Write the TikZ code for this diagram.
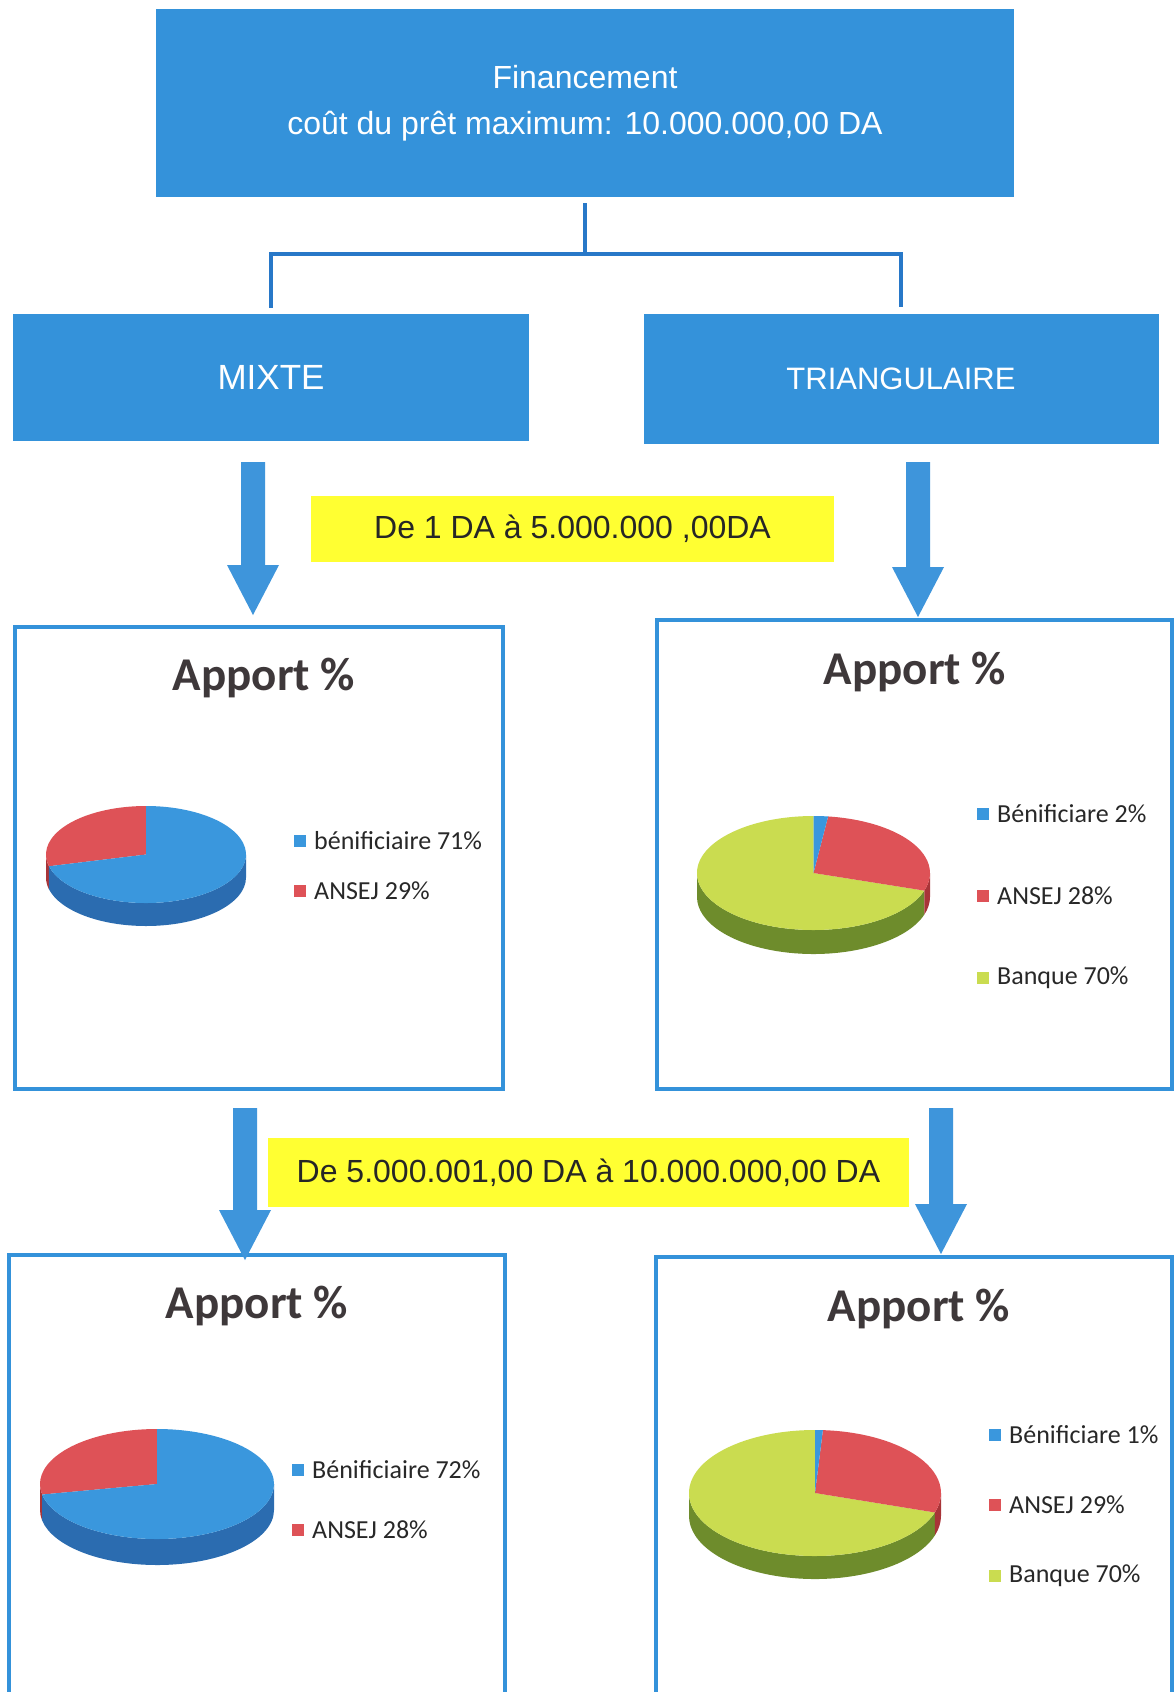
\documentclass[tikz,border=0pt]{standalone}
\usepackage{fontspec}
\setmainfont{Liberation Sans}
\newfontfamily\calfont{Carlito}
\usetikzlibrary{calc}
\definecolor{boxblue}{RGB}{52,146,218}
\definecolor{lineblue}{RGB}{40,120,200}
\definecolor{arrblue}{RGB}{62,149,219}
\definecolor{hiyellow}{RGB}{255,255,50}
\definecolor{pieblue}{RGB}{58,151,221}
\definecolor{piebluedk}{RGB}{43,108,176}
\definecolor{piered}{RGB}{222,82,87}
\definecolor{pieredk}{RGB}{168,52,56}
\definecolor{piegreen}{RGB}{202,220,80}
\definecolor{piegreendk}{RGB}{110,140,44}
\definecolor{titlegray}{RGB}{62,56,58}
\definecolor{legtext}{RGB}{40,40,40}

\tikzset{
 bluebox/.style={fill=boxblue, text=white, inner sep=0pt, align=center},
 hlbox/.style={fill=hiyellow, text=black!85, inner sep=0pt, font=\fontsize{32}{38}\selectfont},
 framebox/.style={draw=boxblue, line width=3.5pt, fill=white, inner sep=0pt},
 conn/.style={draw=lineblue, line width=3.5pt},
 charttitle/.style={font=\calfont\bfseries\fontsize{47}{56}\selectfont, text=titlegray},
 legtxt/.style={font=\calfont\fontsize{26}{31}\selectfont, text=legtext, anchor=west, inner sep=0pt},
 legkey/.style={minimum size=12pt, inner sep=0pt},
}

% cx cy rx ry a b color
\newcommand\pietop[7]{%
 \fill[#7] (#1,#2) -- ++(#5:#3 and #4) arc[start angle=#5,end angle=#6,x radius=#3,y radius=#4] -- cycle;}
% cx cy rx ry d a b color
\newcommand\pieside[8]{%
 \fill[#8] (#1,#2) ++(#6:#3 and #4) arc[start angle=#6,end angle=#7,x radius=#3,y radius=#4] -- ++(0,-#5) arc[start angle=#7,end angle=#6,x radius=#3,y radius=#4] -- cycle;}
\newcommand\blockarrow[2]{%
 \fill[arrblue] ($(#1)+(-12,0)$) -- ($(#1)+(12,0)$) -- ($(#2)+(12,50)$) -- ($(#2)+(26,50)$) -- (#2) -- ($(#2)+(-26,50)$) -- ($(#2)+(-12,50)$) -- cycle;}

\begin{document}
\begin{tikzpicture}[x=1pt,y=1pt]
\useasboundingbox (0,0) rectangle (1174,-1692);
\fill[white] (0,0) rectangle (1174,-1692);

% top level boxes
\node[bluebox, minimum width=858pt, minimum height=188pt, font=\fontsize{32}{46}\selectfont] (top) at (585,-103) {Financement\\coût du prêt maximum: 10.000.000,00 DA};
\node[bluebox, minimum width=516pt, minimum height=127pt, font=\fontsize{35}{42}\selectfont] (mixte) at (271,-377.5) {MIXTE};
\node[bluebox, minimum width=515pt, minimum height=130pt, font=\fontsize{31}{37}\selectfont] (tri) at (901,-378.5) {TRIANGULAIRE};

% connectors
\coordinate (jn) at ($(top.south)+(0,-57)$);
\draw[conn, shorten <=6pt] (top.south) -- (jn);
\draw[conn, shorten >=6pt] (jn) -| (mixte.north);
\draw[conn, shorten >=6pt] (jn) -| (tri.north);

% ranges
\node[hlbox, minimum width=523pt, minimum height=66pt] (rng1) at (572.5,-529) {De 1 DA à 5.000.000 ,00DA};
\node[hlbox, minimum width=641pt, minimum height=69pt] (rng2) at (588.5,-1172.5) {De 5.000.001,00 DA à 10.000.000,00 DA};

% chart frames
\node[framebox, minimum width=488pt, minimum height=462pt] (c1) at (259,-858) {};
\node[framebox, minimum width=515pt, minimum height=469pt] (c2) at (914.5,-854.5) {};
\node[framebox, minimum width=496pt, minimum height=455pt] (c3) at (257,-1482.5) {};
\node[framebox, minimum width=516pt, minimum height=453pt] (c4) at (914,-1483.5) {};

% block arrows
\coordinate (a1s) at (253,-462); \coordinate (a1e) at (253,-615);
\coordinate (a2s) at (918,-462); \coordinate (a2e) at (918,-617);
\coordinate (a3s) at (245,-1108); \coordinate (a3e) at (245,-1260);
\coordinate (a4s) at (941,-1108); \coordinate (a4e) at (941,-1254);
\blockarrow{a1s}{a1e}
\blockarrow{a2s}{a2e}
\blockarrow{a3s}{a3e}
\blockarrow{a4s}{a4e}

% titles
\node[charttitle] (t1) at (264,-678) {Apport \%};
\node[charttitle] (t2) at (915,-672) {Apport \%};
\node[charttitle] (t3) at (257,-1306) {Apport \%};
\node[charttitle] (t4) at (919,-1309) {Apport \%};

% pie 1 (mixte, 71/29)
\pieside{146}{-854.5}{100}{48.5}{23}{180}{194}{pieredk}
\pieside{146}{-854.5}{100}{48.5}{23}{194}{360}{piebluedk}
\pietop{146}{-854.5}{100}{48.5}{90}{194}{piered}
\pietop{146}{-854.5}{100}{48.5}{194}{450}{pieblue}

% pie 2 (triangulaire, 2/28/70)
\pieside{813.5}{-873}{116.5}{57}{24}{180}{342}{piegreendk}
\pieside{813.5}{-873}{116.5}{57}{24}{342}{360}{pieredk}
\pietop{813.5}{-873}{116.5}{57}{90}{342}{piegreen}
\pietop{813.5}{-873}{116.5}{57}{-18}{82.8}{piered}
\pietop{813.5}{-873}{116.5}{57}{82.8}{90}{pieblue}

% pie 3 (mixte, 72/28)
\pieside{157}{-1484}{117}{55}{26}{180}{191}{pieredk}
\pieside{157}{-1484}{117}{55}{26}{191}{360}{piebluedk}
\pietop{157}{-1484}{117}{55}{90}{191}{piered}
\pietop{157}{-1484}{117}{55}{191}{450}{pieblue}

% pie 4 (triangulaire, 1/29/70)
\pieside{815}{-1493}{126}{63}{23}{180}{342}{piegreendk}
\pieside{815}{-1493}{126}{63}{23}{342}{360}{pieredk}
\pietop{815}{-1493}{126}{63}{90}{342}{piegreen}
\pietop{815}{-1493}{126}{63}{-18}{86.4}{piered}
\pietop{815}{-1493}{126}{63}{86.4}{90}{pieblue}

% legends
\node[legkey, fill=pieblue] (k1a) at (300,-841) {};
\node[legtxt] (l1a) at (314,-841) {bénificiaire 71\%};
\node[legkey, fill=piered] (k1b) at (300,-891) {};
\node[legtxt] (l1b) at (314,-891) {ANSEJ 29\%};

\node[legkey, fill=pieblue] (k2a) at (983,-814) {};
\node[legtxt] (l2a) at (997,-814) {Bénificiare 2\%};
\node[legkey, fill=piered] (k2b) at (983,-896) {};
\node[legtxt] (l2b) at (997,-896) {ANSEJ 28\%};
\node[legkey, fill=piegreen] (k2c) at (983,-978) {};
\node[legtxt] (l2c) at (997,-978) {Banque 70\%};

\node[legkey, fill=pieblue] (k3a) at (298,-1470) {};
\node[legtxt] (l3a) at (312,-1470) {Bénificiaire 72\%};
\node[legkey, fill=piered] (k3b) at (298,-1530) {};
\node[legtxt] (l3b) at (312,-1530) {ANSEJ 28\%};

\node[legkey, fill=pieblue] (k4a) at (995,-1435) {};
\node[legtxt] (l4a) at (1009,-1435) {Bénificiare 1\%};
\node[legkey, fill=piered] (k4b) at (995,-1505) {};
\node[legtxt] (l4b) at (1009,-1505) {ANSEJ 29\%};
\node[legkey, fill=piegreen] (k4c) at (995,-1576) {};
\node[legtxt] (l4c) at (1009,-1576) {Banque 70\%};
\end{tikzpicture}
\end{document}
